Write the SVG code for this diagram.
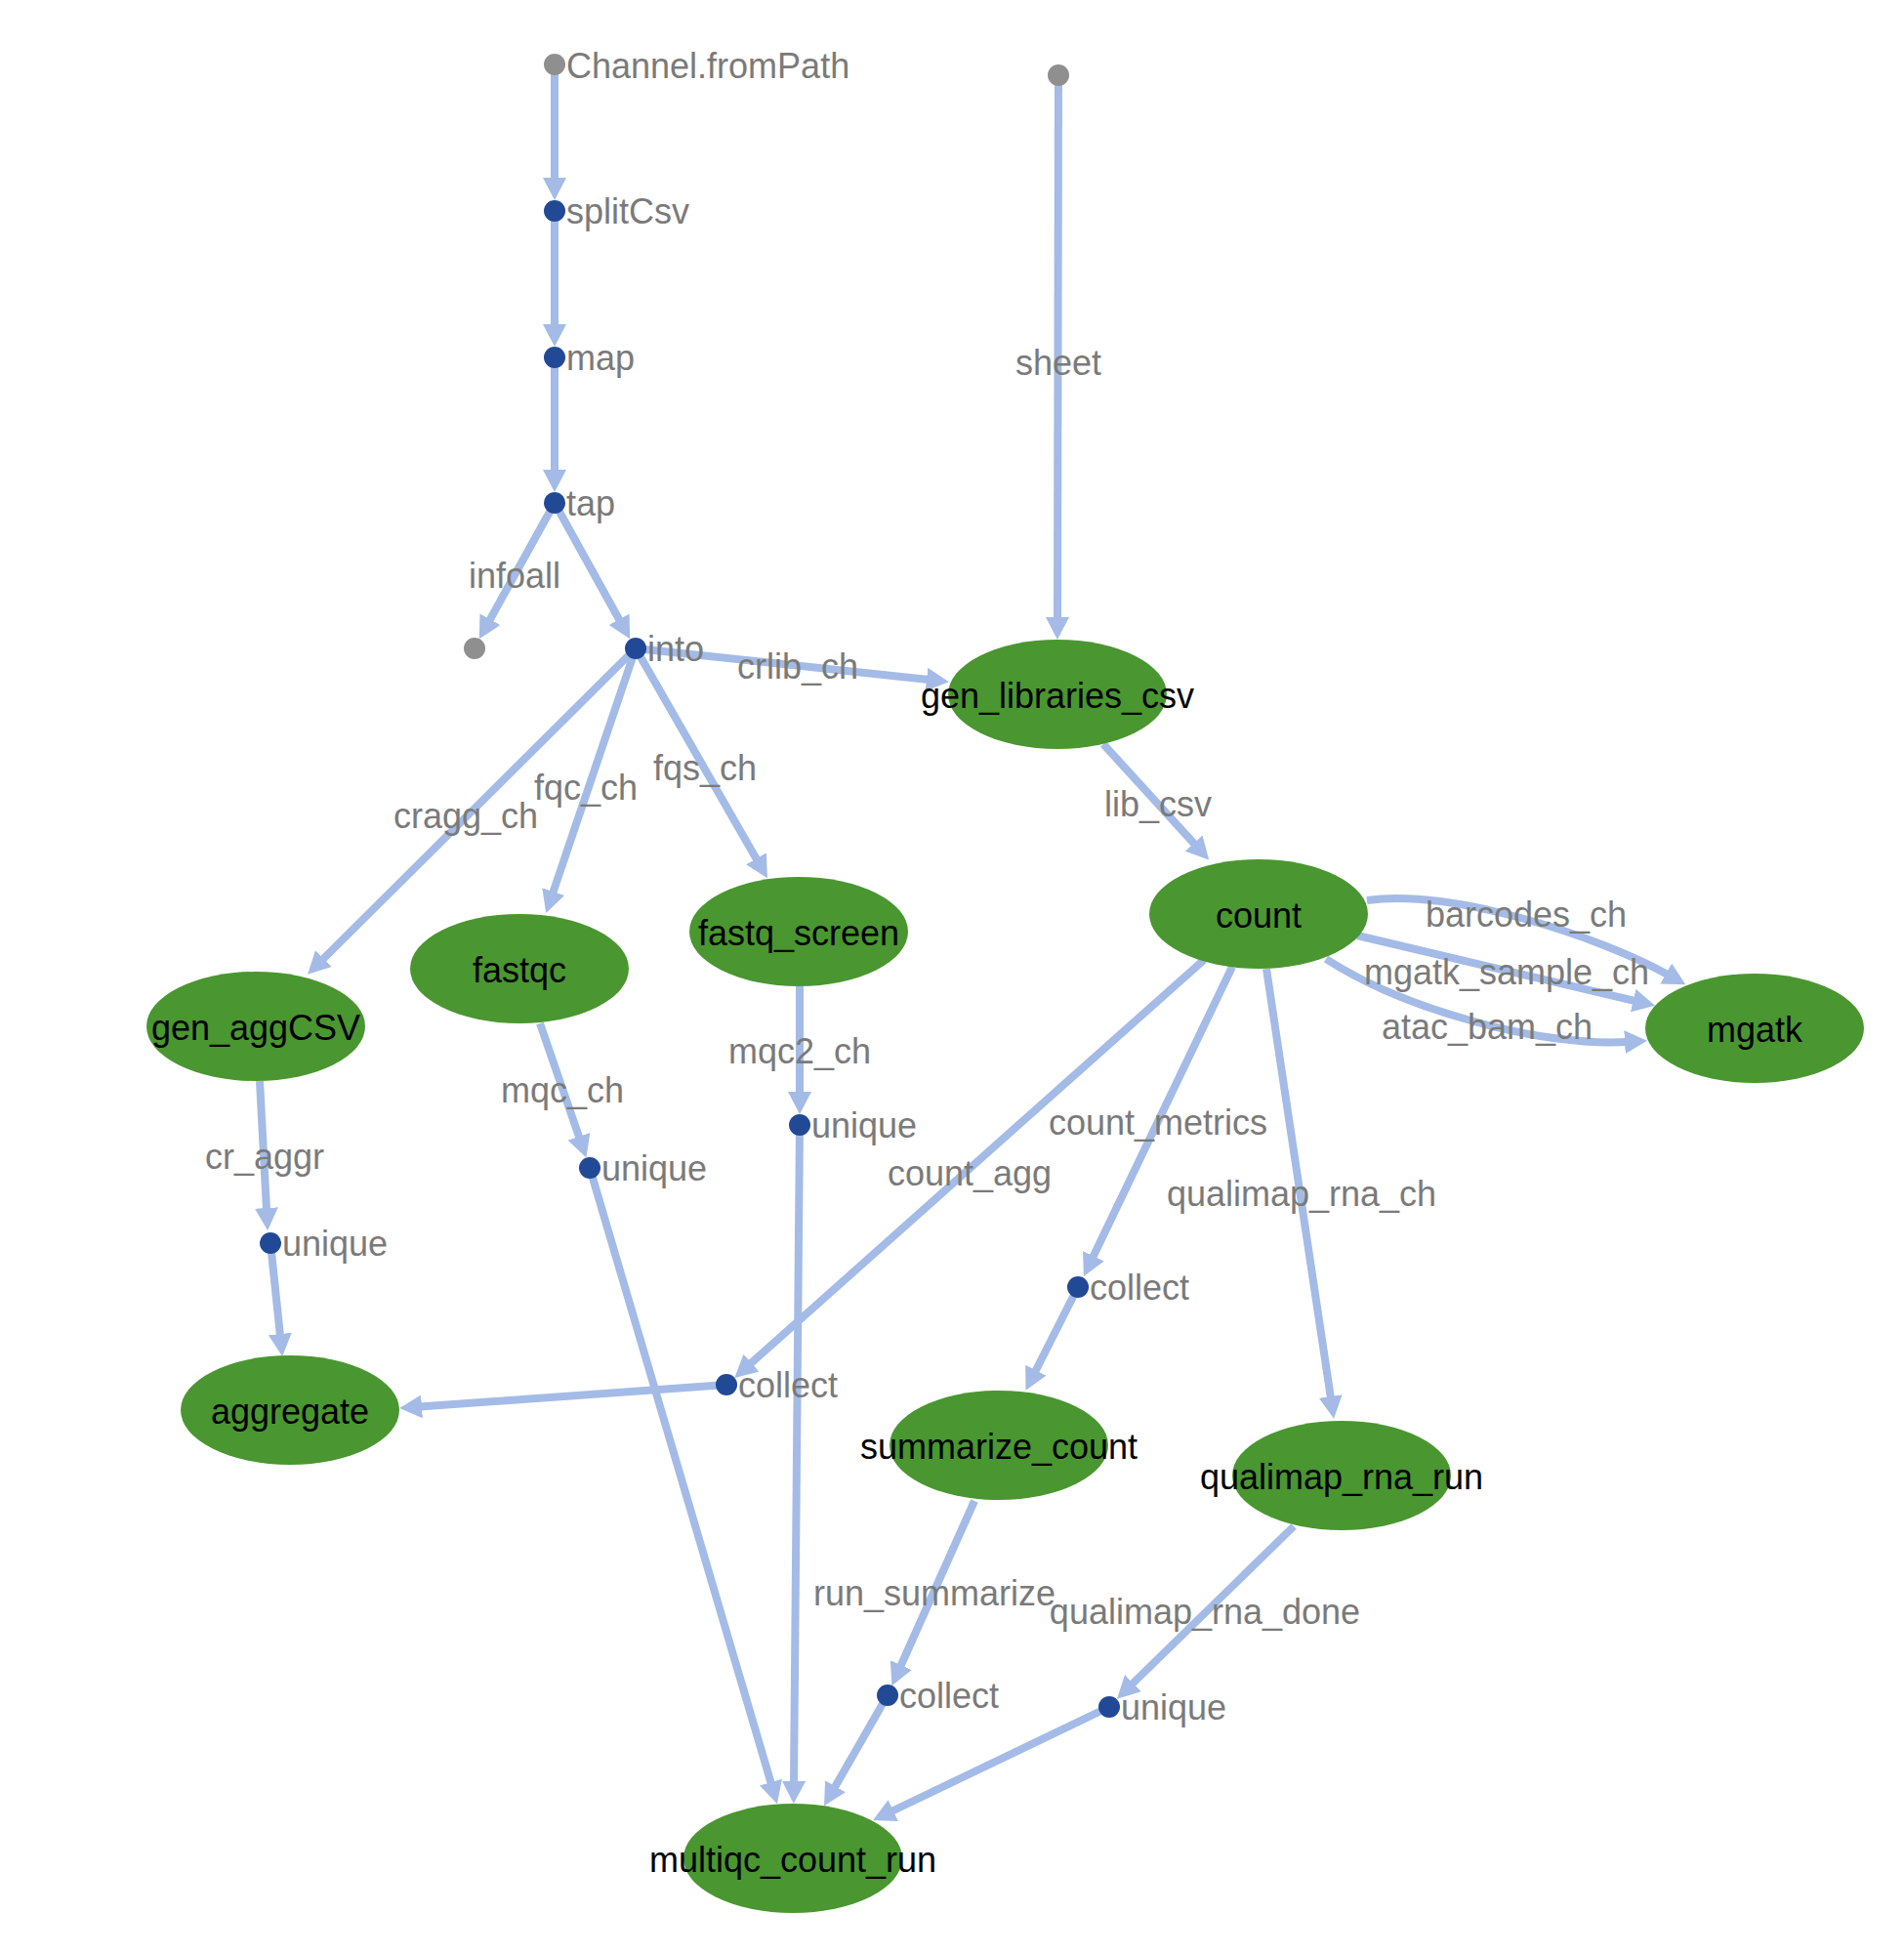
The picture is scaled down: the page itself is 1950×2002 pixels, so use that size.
<svg xmlns="http://www.w3.org/2000/svg" width="1950" height="2002" viewBox="0 0 1950 2002">
<style>
.e{fill:none;stroke:#a3bbe6;stroke-width:8;marker-end:url(#arr)}
.proc{fill:#4a9630}
.op{fill:#224996}
.src{fill:#8f8f8f}
.nl{font-family:"Liberation Sans",Arial,sans-serif;font-size:36px;fill:#000;text-anchor:middle}
.ol{font-family:"Liberation Sans",Arial,sans-serif;font-size:36px;fill:#7a7a7a}
.el{font-family:"Liberation Sans",Arial,sans-serif;font-size:36px;fill:#7a7a7a;text-anchor:middle}
</style>
<defs>
<marker id="arr" markerUnits="userSpaceOnUse" markerWidth="23" markerHeight="24" viewBox="0 -12 23 24" refX="2" refY="0" orient="auto">
<path d="M0,-12 L23,0 L0,12 z" fill="#a3bbe6"/>
</marker>
</defs>
<rect width="1950" height="2002" fill="#ffffff"/>
<g id="connectors">
<path class="e" d="M568,66 L568,184"/>
<path class="e" d="M568,216 L568,334"/>
<path class="e" d="M568,366 L568,483"/>
<path class="e" d="M568,515 L501,636"/>
<path class="e" d="M568,515 L635,636"/>
<path class="e" d="M651,664 L951,696"/>
<path class="e" d="M651,664 L330,983"/>
<path class="e" d="M651,664 L566,915"/>
<path class="e" d="M651,664 L775.5,881"/>
<path class="e" d="M1084,77 L1083,634"/>
<path class="e" d="M1130,762 L1224,865"/>
<path class="e" d="M1400,922 C1490,910 1640,960 1708,998"/>
<path class="e" d="M1390,958 L1674.6,1025"/>
<path class="e" d="M1358,982 C1440,1035 1580,1072 1666,1067"/>
<path class="e" d="M1233,983 L768,1397"/>
<path class="e" d="M1262,990 L1119,1288"/>
<path class="e" d="M1297,992 L1363,1432"/>
<path class="e" d="M266,1107 L273,1239"/>
<path class="e" d="M277,1273 L287,1368"/>
<path class="e" d="M744,1418 L430,1440.5"/>
<path class="e" d="M553,1048 L593.6,1165.7"/>
<path class="e" d="M604,1196 L790,1827"/>
<path class="e" d="M819,1010 L819,1120"/>
<path class="e" d="M819,1152 L813,1826"/>
<path class="e" d="M1104,1318 L1060,1405"/>
<path class="e" d="M998,1537 L922,1707"/>
<path class="e" d="M909,1736 L854.5,1831"/>
<path class="e" d="M1325,1563 L1159,1725"/>
<path class="e" d="M1136,1748 L913,1855"/>
</g>
<g id="nodes">
<g id="n_fromPath"><circle class="src" cx="568" cy="66" r="11"/><text class="ol" x="580" y="80">Channel.fromPath</text></g>
<g id="n_sheet_src"><circle class="src" cx="1084" cy="77" r="11"/></g>
<g id="n_splitCsv"><circle class="op" cx="568" cy="216" r="11"/><text class="ol" x="580" y="229">splitCsv</text></g>
<g id="n_map"><circle class="op" cx="568" cy="366" r="11"/><text class="ol" x="580" y="379">map</text></g>
<g id="n_tap"><circle class="op" cx="568" cy="515" r="11"/><text class="ol" x="580" y="528">tap</text></g>
<g id="n_infoall"><circle class="src" cx="486" cy="664" r="11"/></g>
<g id="n_into"><circle class="op" cx="651" cy="664" r="11"/><text class="ol" x="663" y="677">into</text></g>
<g id="n_gen_libraries_csv"><ellipse class="proc" cx="1083" cy="711" rx="112" ry="56"/><text class="nl" x="1083" y="725">gen_libraries_csv</text></g>
<g id="n_count"><ellipse class="proc" cx="1289" cy="936" rx="112" ry="56"/><text class="nl" x="1289" y="950">count</text></g>
<g id="n_mgatk"><ellipse class="proc" cx="1797" cy="1053" rx="112" ry="56"/><text class="nl" x="1797" y="1067">mgatk</text></g>
<g id="n_gen_aggCSV"><ellipse class="proc" cx="262" cy="1051" rx="112" ry="56"/><text class="nl" x="262" y="1065">gen_aggCSV</text></g>
<g id="n_fastqc"><ellipse class="proc" cx="532" cy="992" rx="112" ry="56"/><text class="nl" x="532" y="1006">fastqc</text></g>
<g id="n_fastq_screen"><ellipse class="proc" cx="818" cy="954" rx="112" ry="56"/><text class="nl" x="818" y="968">fastq_screen</text></g>
<g id="n_unique1"><circle class="op" cx="277" cy="1273" r="11"/><text class="ol" x="289" y="1286">unique</text></g>
<g id="n_unique2"><circle class="op" cx="604" cy="1196" r="11"/><text class="ol" x="616" y="1209">unique</text></g>
<g id="n_unique3"><circle class="op" cx="819" cy="1152" r="11"/><text class="ol" x="831" y="1165">unique</text></g>
<g id="n_collect1"><circle class="op" cx="744" cy="1418" r="11"/><text class="ol" x="756" y="1431">collect</text></g>
<g id="n_collect2"><circle class="op" cx="1104" cy="1318" r="11"/><text class="ol" x="1116" y="1331">collect</text></g>
<g id="n_aggregate"><ellipse class="proc" cx="297" cy="1444" rx="112" ry="56"/><text class="nl" x="297" y="1458">aggregate</text></g>
<g id="n_summarize_count"><ellipse class="proc" cx="1023" cy="1480" rx="112" ry="56"/><text class="nl" x="1023" y="1494">summarize_count</text></g>
<g id="n_qualimap_rna_run"><ellipse class="proc" cx="1374" cy="1511" rx="112" ry="56"/><text class="nl" x="1374" y="1525">qualimap_rna_run</text></g>
<g id="n_collect3"><circle class="op" cx="909" cy="1736" r="11"/><text class="ol" x="921" y="1749">collect</text></g>
<g id="n_unique4"><circle class="op" cx="1136" cy="1748" r="11"/><text class="ol" x="1148" y="1761">unique</text></g>
<g id="n_multiqc_count_run"><ellipse class="proc" cx="812" cy="1903" rx="112" ry="56"/><text class="nl" x="812" y="1917">multiqc_count_run</text></g>
</g>
<g id="edge-labels">
<text class="el" x="1084" y="384">sheet</text>
<text class="el" x="527" y="602">infoall</text>
<text class="el" x="817" y="695">crlib_ch</text>
<text class="el" x="477" y="848">cragg_ch</text>
<text class="el" x="600" y="819">fqc_ch</text>
<text class="el" x="722" y="799">fqs_ch</text>
<text class="el" x="1186" y="836">lib_csv</text>
<text class="el" x="1563" y="949">barcodes_ch</text>
<text class="el" x="1543" y="1008">mgatk_sample_ch</text>
<text class="el" x="1523" y="1064">atac_bam_ch</text>
<text class="el" x="993" y="1214">count_agg</text>
<text class="el" x="1186" y="1162">count_metrics</text>
<text class="el" x="1333" y="1235">qualimap_rna_ch</text>
<text class="el" x="271" y="1197">cr_aggr</text>
<text class="el" x="576" y="1129">mqc_ch</text>
<text class="el" x="819" y="1089">mqc2_ch</text>
<text class="el" x="957" y="1644">run_summarize</text>
<text class="el" x="1234" y="1663">qualimap_rna_done</text>
</g>
</svg>
